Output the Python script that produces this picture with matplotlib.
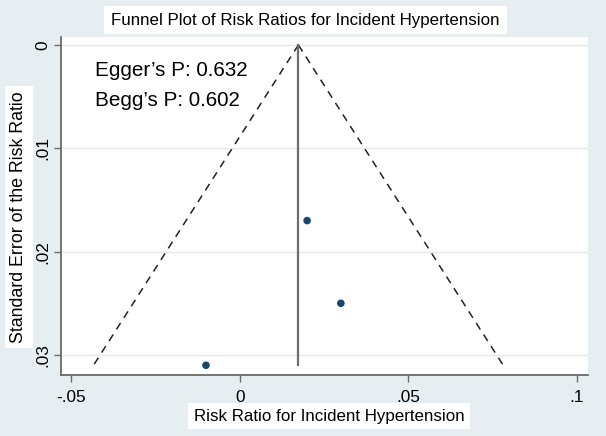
import matplotlib
matplotlib.use("Agg")
import matplotlib.pyplot as plt
import numpy as np

plt.rcParams['font.family'] = ['Liberation Sans', 'DejaVu Sans']

# Data
risk_ratio = [0.020, 0.030, -0.010]
std_error = [0.017, 0.025, 0.031]
pooled = 0.0174
x_ticks = [-0.05, 0, 0.05, 0.1]
x_ticklabels = ['-.05', '0', '.05', '.1']
y_ticks = [0, 0.01, 0.02, 0.03]
y_ticklabels = ['0', '.01', '.02', '.03']
egger_text = "Egger\u2019s P: 0.632"
begg_text = "Begg\u2019s P: 0.602"

bg = '#e7eef1'
W, H = 606, 436
fig = plt.figure(figsize=(6.06, 4.36), dpi=100, facecolor=bg)
ax = fig.add_axes([61/W, 1-375/H, (588-61)/W, (375-37)/H])
ax.set_facecolor('white')

se_max = max(std_error)
se_line = np.array([0, se_max])
ax.plot(pooled - 1.96*se_line, se_line, color='#222222', ls=(0, (5, 4)), lw=1.1)
ax.plot(pooled + 1.96*se_line, se_line, color='#222222', ls=(0, (5, 4)), lw=1.1)
ax.plot([pooled, pooled], [0, se_max], color='#6e6e6e', lw=1.6)
ax.scatter(risk_ratio, std_error, s=30, color='#1a476f', zorder=5, edgecolors='none')

ax.set_xlim(-0.053, 0.1033)
ax.set_ylim(0.03194, -0.00077)
ax.set_xticks(x_ticks)
ax.set_xticklabels(x_ticklabels, fontsize=12.4)
ax.set_yticks(y_ticks)
ax.set_yticklabels(y_ticklabels, fontsize=12.4, rotation=90, va='center')
ax.grid(axis='y', color='#e4e8ea', lw=1)
ax.set_axisbelow(True)
for s in ['top', 'right']:
    ax.spines[s].set_visible(False)
for s in ['left', 'bottom']:
    ax.spines[s].set_color('#6a6a6a')
    ax.spines[s].set_linewidth(1.3)
ax.tick_params(colors='#6a6a6a', labelcolor='black', length=5, width=1)
ax.tick_params(axis='x', pad=6)
ax.tick_params(axis='y', pad=3)

ax.text(0.064, (375-70)/338, egger_text, transform=ax.transAxes, fontsize=14.9, va='center')
ax.text(0.064, (375-100)/338, begg_text, transform=ax.transAxes, fontsize=14.9, va='center')

box = dict(facecolor='white', edgecolor='none', boxstyle='square,pad=0.4')
fig.text(305.5/W, 1-20/H, "Funnel Plot of Risk Ratios for Incident Hypertension",
         ha='center', va='center', fontsize=12.2, bbox=box)
fig.text(329/W, 1-416/H, "Risk Ratio for Incident Hypertension",
         ha='center', va='center', fontsize=12.15, bbox=dict(facecolor='white', edgecolor='none', boxstyle='square,pad=0.35'))
fig.text(19/W, 1-217/H, "Standard Error of the Risk Ratio", rotation=90,
         ha='center', va='center', fontsize=12.8, bbox=dict(facecolor='white', edgecolor='none', boxstyle='square,pad=0.3'))

fig.savefig('out.png', dpi=100, facecolor=bg)
